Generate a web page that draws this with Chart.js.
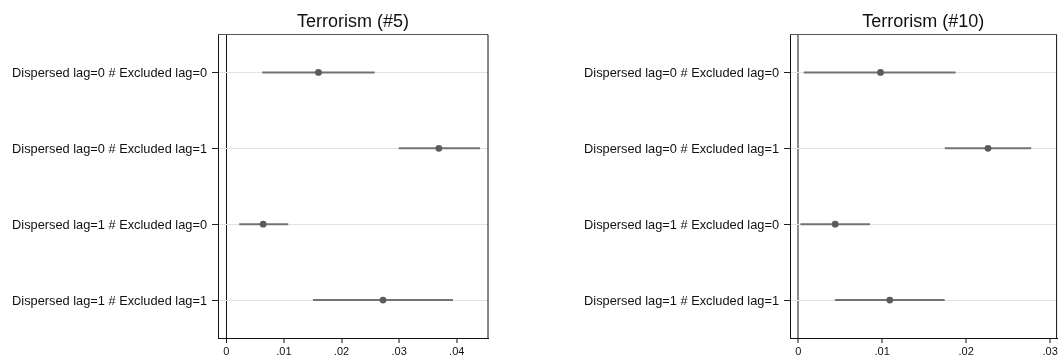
<!DOCTYPE html>
<html>
<head>
<meta charset="utf-8">
<script src="https://cdn.jsdelivr.net/npm/chart.js@4.4.1/dist/chart.umd.min.js"></script>
<style>
  html, body { margin: 0; padding: 0; background: #fff; }
  #wrap { position: relative; width: 1060px; height: 356px; overflow: hidden; }
  canvas { position: absolute; top: 0; }
</style>
</head>
<body>
<div id="wrap">
  <canvas id="t5" width="530" height="356" style="left:0"></canvas>
  <canvas id="t10" width="530" height="356" style="left:530px"></canvas>
</div>
<script>
// Interaction terms (rows, top to bottom)
const categories = [
  'Dispersed lag=0 # Excluded lag=0',
  'Dispersed lag=0 # Excluded lag=1',
  'Dispersed lag=1 # Excluded lag=0',
  'Dispersed lag=1 # Excluded lag=1'
];

// Terrorism (#5): point estimates and confidence bounds
const t5Estimate = [0.0160, 0.0369, 0.0064, 0.0272];
const t5Lower    = [0.0063, 0.0300, 0.0023, 0.0151];
const t5Upper    = [0.0257, 0.0440, 0.0107, 0.0393];

// Terrorism (#10): point estimates and confidence bounds
const t10Estimate = [0.0098, 0.0226, 0.0044, 0.0109];
const t10Lower    = [0.0007, 0.0175, 0.0003, 0.0044];
const t10Upper    = [0.0187, 0.0277, 0.0085, 0.0174];

// x-axis ticks
const t5TickValues  = [0, 0.01, 0.02, 0.03, 0.04];
const t5TickLabels  = ['0', '.01', '.02', '.03', '.04'];
const t10TickValues = [0, 0.01, 0.02, 0.03];
const t10TickLabels = ['0', '.01', '.02', '.03'];

Chart.defaults.font.family = '"Liberation Sans", Arial, Helvetica, sans-serif';
Chart.defaults.color = '#111';

const CANVAS_H = 356;

// top and right edges of the plot frame
const framePlugin = {
  id: 'frame',
  afterDraw(chart) {
    const { ctx, chartArea: a } = chart;
    ctx.save();
    ctx.lineWidth = 1;
    ctx.strokeStyle = '#555';
    ctx.beginPath();
    ctx.moveTo(a.left, a.top);
    ctx.lineTo(a.right, a.top);
    ctx.stroke();
    ctx.strokeStyle = '#111';
    ctx.beginPath();
    ctx.moveTo(a.right, a.top);
    ctx.lineTo(a.right, a.bottom);
    ctx.stroke();
    ctx.restore();
  }
};

// panel heading centred over the plot region
const headingPlugin = {
  id: 'heading',
  afterDraw(chart, args, opts) {
    const { ctx, chartArea: a } = chart;
    ctx.save();
    ctx.font = '18px "Liberation Sans", Arial, sans-serif';
    ctx.fillStyle = '#111';
    ctx.textAlign = 'center';
    ctx.textBaseline = 'alphabetic';
    ctx.fillText(opts.text, (a.left + a.right) / 2, opts.y);
    ctx.restore();
  }
};

function drawPanel(id, heading, est, lo, hi, tickValues, tickLabels, xMin, xMax, geom, zero) {
  return new Chart(document.getElementById(id), {
    type: 'bar',
    data: {
      labels: categories,
      datasets: [
        {
          type: 'line',
          indexAxis: 'y',
          data: est,
          showLine: false,
          pointRadius: 3.4,
          pointHoverRadius: 3.4,
          pointBackgroundColor: '#5b5b5b',
          pointBorderWidth: 0,
          order: 0
        },
        {
          type: 'bar',
          indexAxis: 'y',
          data: categories.map((_, i) => [lo[i], hi[i]]),
          backgroundColor: '#737373',
          borderWidth: 0,
          barThickness: 1.3,
          order: 1
        }
      ]
    },
    options: {
      indexAxis: 'y',
      responsive: false,
      animation: false,
      events: [],
      layout: { padding: { left: 0, right: geom.padRight, top: geom.top, bottom: 0 } },
      plugins: {
        legend: { display: false },
        tooltip: { enabled: false },
        heading: { text: heading, y: 27 }
      },
      scales: {
        x: {
          type: 'linear',
          min: xMin,
          max: xMax,
          afterBuildTicks(s) { s.ticks = tickValues.map(v => ({ value: v })); },
          afterFit(s) { s.height = CANVAS_H - geom.bottom; s.paddingLeft = 0; s.paddingRight = 0; },
          ticks: {
            autoSkip: false,
            maxRotation: 0,
            padding: 2,
            color: '#111',
            font: { size: 11 },
            callback: (v, i) => tickLabels[i]
          },
          grid: {
            drawOnChartArea: true,
            color: c => (c.tick && c.tick.value === 0 ? zero.color : 'rgba(0,0,0,0)'),
            lineWidth: c => (c.tick && c.tick.value === 0 ? zero.width : 0),
            tickColor: '#111',
            tickWidth: 1,
            tickLength: 5
          },
          border: { color: '#111', width: 1 }
        },
        y: {
          type: 'category',
          offset: true,
          afterFit(s) { s.width = geom.left; },
          ticks: { padding: 5, color: '#111', font: { size: 12.8 }, labelOffset: 1 },
          grid: {
            offset: false,
            color: '#e2e2e2',
            lineWidth: 1,
            tickColor: '#222',
            tickWidth: 1,
            tickLength: 6
          },
          border: { color: '#111', width: 1 }
        }
      }
    },
    plugins: [framePlugin, headingPlugin]
  });
}

drawPanel('t5', 'Terrorism (#5)', t5Estimate, t5Lower, t5Upper,
  t5TickValues, t5TickLabels, -0.00144, 0.04543,
  { left: 218, padRight: 42, top: 34.5, bottom: 338 },
  { color: '#111', width: 1 });

drawPanel('t10', 'Terrorism (#10)', t10Estimate, t10Lower, t10Upper,
  t10TickValues, t10TickLabels, -0.00098, 0.03077,
  { left: 260, padRight: 1.7, top: 34.5, bottom: 338 },
  { color: '#8a8a8a', width: 2 });
</script>
</body>
</html>
